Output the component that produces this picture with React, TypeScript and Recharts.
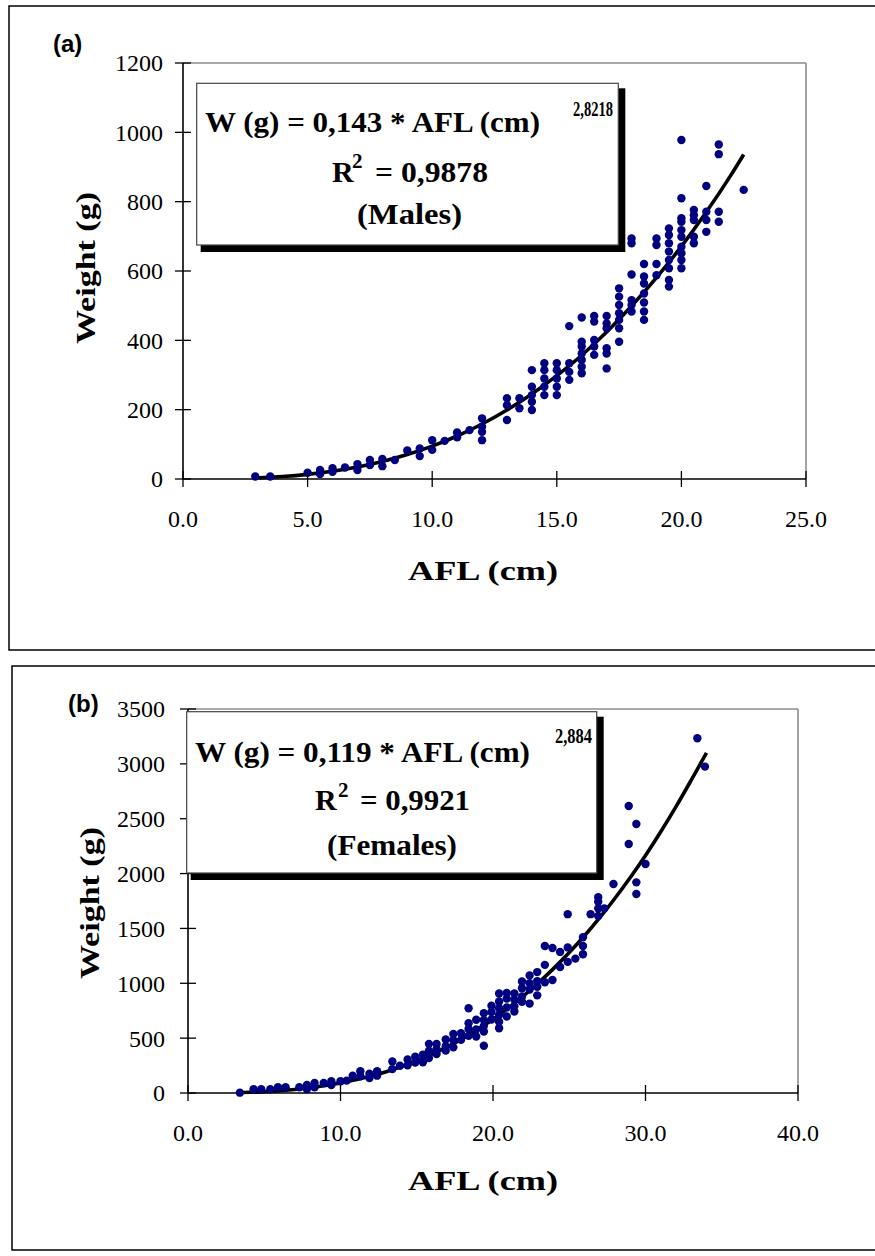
import React from 'react';
import { ComposedChart, Scatter, Line, XAxis, YAxis, ReferenceLine } from 'recharts';

const SERIF = '"Liberation Serif", "Times New Roman", serif';
const SANS = '"Liberation Sans", Arial, sans-serif';
const DOT = '#000080';

// ---------- Panel (a): males ----------
const maleAFL = [2.9, 3.5, 5.0, 5.5, 6.0, 6.5, 7.0, 7.5, 8.0, 8.5, 9.0, 9.5, 10.0, 10.5, 11.0, 11.5, 12.0, 13.0, 13.5, 14.0, 14.5, 15.0, 15.5, 16.0, 16.5, 17.0, 17.5, 18.0, 18.5, 19.0, 19.5, 20.0, 20.5, 21.0, 21.5, 22.5];
const maleWeights = [
  [7], [7], [18], [26, 14], [31, 21], [33], [43, 26], [55, 40], [58, 37], [55], [82], [88, 66],
  [112, 84], [110], [134, 120], [141], [175, 151, 136, 112], [233, 213, 170], [233, 204],
  [314, 266, 242, 223, 199], [334, 314, 290, 266, 242], [334, 314, 290, 266, 242],
  [441, 334, 309, 286], [466, 396, 382, 362, 343, 324, 305], [470, 454, 401, 382, 358],
  [470, 449, 435, 377, 362, 319], [550, 526, 502, 478, 459, 435, 396],
  [694, 680, 590, 516, 502, 483], [620, 584, 564, 535, 509, 483, 459], [694, 675, 620, 588],
  [723, 704, 680, 656, 632, 608, 574, 555], [978, 810, 752, 742, 718, 699, 670, 651, 632, 608],
  [776, 761, 747, 699, 680], [845, 771, 747, 713], [965, 937, 771, 742], [834],
];
const maleFitAFL = [2.9, 4, 5, 6, 7, 8, 9, 10, 11, 12, 13, 14, 15, 16, 17, 18, 19, 20, 21, 22, 22.5];
const maleFitW = [3, 7.1, 13.4, 22.4, 34.7, 50.5, 70.5, 94.9, 124, 158.7, 199, 245, 298, 357, 424, 499, 581, 671, 770, 878, 936];
const maleXTicks = [0, 5, 10, 15, 20, 25];
const maleYTicks = [0, 200, 400, 600, 800, 1000, 1200];

// ---------- Panel (b): females ----------
const femaleAFL = [3.4, 4.3, 4.8, 5.4, 5.9, 6.4, 7.3, 7.8, 8.3, 8.9, 9.4, 10.0, 10.4, 10.8, 11.3, 11.9, 12.4, 13.4, 13.9, 14.4, 14.9, 15.4, 15.8, 16.3, 16.9, 17.4, 17.9, 18.4, 18.9, 19.4, 19.9, 20.4, 20.9, 21.4, 21.9, 22.4, 22.9, 23.4, 23.9, 24.4, 24.9, 25.4, 25.9, 26.4, 26.9, 27.3, 27.9, 28.9, 29.4, 30.0, 33.4, 33.9];
const femaleWeights = [
  [3], [34], [34], [34], [52], [52], [52], [73, 34], [91, 52], [91], [107, 73], [107], [113], [158],
  [198, 152], [176, 137], [198, 158], [287, 218], [249], [306, 252], [330, 278], [348, 300, 280],
  [448, 385, 318], [446, 398, 355], [488, 426, 386], [538, 480, 416], [545, 484],
  [773, 636, 583, 522], [667, 580, 515], [728, 665, 610, 560, 430], [795, 738, 670],
  [907, 834, 773, 712, 650, 590], [912, 860, 780, 697], [907, 850, 790, 742],
  [1016, 955, 880, 831], [1072, 1000, 943, 815], [1102, 1020, 968, 890], [1340, 1168, 1010],
  [1322, 1030], [1286, 1149], [1630, 1327, 1195], [1225], [1419, 1340, 1265], [1630],
  [1784, 1744, 1683, 1613], [1683], [1905], [2616, 2270], [2452, 1920, 1814], [2087], [3233], [2975],
];
const femaleFitAFL = [3.6, 5, 7, 8, 10, 12, 13, 14, 15, 16, 17, 18, 19, 20, 21, 22, 23, 24, 25, 26, 27, 28, 29, 30, 31, 32, 33, 34];
const femaleFitW = [4.6, 12.3, 32.6, 47.9, 91, 154, 194, 240, 293, 354, 421, 496, 580, 672, 774, 885, 1007, 1138, 1280, 1433, 1598, 1775, 1964, 2165, 2381, 2610, 2852, 3100];
const femaleXTicks = [0, 10, 20, 30, 40];
const femaleYTicks = [0, 500, 1000, 1500, 2000, 2500, 3000, 3500];

const toPoints = (xs: number[], ws: number[][]) =>
  xs.flatMap((x, i) => ws[i].map((w) => ({ x, w })));
const toLine = (xs: number[], ws: number[]) => xs.map((x, i) => ({ x, w: ws[i] }));

const TS = 8; // half tick length

const makeYTick = (margin: number) => (props: any) => {
  const { x, y, payload } = props;
  const ax = x + TS + margin;
  return (
    <g>
      <line x1={ax - TS} x2={ax + TS} y1={y} y2={y} stroke="#000" strokeWidth={1.3} />
      <text x={x} y={y} dy="0.35em" textAnchor="end" fontFamily={SERIF} fontSize={24} fill="#000">
        {payload.value}
      </text>
    </g>
  );
};

const makeXTick = (margin: number) => (props: any) => {
  const { x, y, payload } = props;
  const ay = y - TS - margin;
  return (
    <g>
      <line x1={x} x2={x} y1={ay - TS} y2={ay + TS} stroke="#000" strokeWidth={1.3} />
      <text x={x} y={y} dy="0.35em" textAnchor="middle" fontFamily={SERIF} fontSize={24} fill="#000">
        {Number(payload.value).toFixed(1)}
      </text>
    </g>
  );
};

const Dot = (props: any) => <circle cx={props.cx} cy={props.cy} r={4.2} fill={DOT} />;

type PanelProps = {
  top: number;
  height: number;
  margin: { top: number; right: number; bottom: number; left: number };
  points: { x: number; w: number }[];
  fit: { x: number; w: number }[];
  xTicks: number[];
  yTicks: number[];
  yTickMargin: number;
};

const Panel = ({ top, height, margin, points, fit, xTicks, yTicks, yTickMargin }: PanelProps) => {
  const xMax = xTicks[xTicks.length - 1];
  const yMax = yTicks[yTicks.length - 1];
  return (
    <div style={{ position: 'absolute', left: 0, top, width: 875, height }}>
      <ComposedChart width={875} height={height} margin={margin}>
        <XAxis
          type="number"
          dataKey="x"
          domain={[0, xMax]}
          ticks={xTicks}
          height={40}
          tickSize={TS}
          tickMargin={32}
          tickLine={false}
          axisLine={{ stroke: '#000', strokeWidth: 1.6 }}
          tick={makeXTick(32)}
          interval={0}
        />
        <YAxis
          type="number"
          dataKey="w"
          domain={[0, yMax]}
          ticks={yTicks}
          width={60}
          tickSize={TS}
          tickMargin={yTickMargin}
          tickLine={false}
          axisLine={{ stroke: '#000', strokeWidth: 1.6 }}
          tick={makeYTick(yTickMargin)}
          interval={0}
        />
        <ReferenceLine y={yMax} stroke="#8c8c8c" strokeWidth={1.6} />
        <ReferenceLine x={xMax} stroke="#8c8c8c" strokeWidth={1.6} />
        <Scatter data={points} shape={Dot} isAnimationActive={false} />
        <Line
          data={fit}
          dataKey="w"
          type="monotone"
          stroke="#000"
          strokeWidth={3.6}
          dot={false}
          activeDot={false}
          isAnimationActive={false}
        />
      </ComposedChart>
    </div>
  );
};

const EqBox = ({ x, y, w, h }: { x: number; y: number; w: number; h: number }) => (
  <g>
    <rect x={x + 4} y={y + 5} width={w + 3} height={h + 2} fill="#000" />
    <rect x={x} y={y} width={w} height={h} fill="#fff" stroke="#444" strokeWidth={1.2} />
  </g>
);

const T = (p: any) => (
  <text fontFamily={SERIF} fontWeight="bold" fill="#000" lengthAdjust="spacingAndGlyphs" {...p} />
);

export default function App() {
  return (
    <div style={{ position: 'absolute', left: 0, top: 0, width: 875, height: 1256, background: '#fff' }}>
      <Panel
        top={0}
        height={650}
        margin={{ top: 63, right: 69, bottom: 131, left: 123 }}
        points={toPoints(maleAFL, maleWeights)}
        fit={toLine(maleFitAFL, maleFitW)}
        xTicks={maleXTicks}
        yTicks={maleYTicks}
        yTickMargin={12}
      />
      <Panel
        top={660}
        height={590}
        margin={{ top: 49, right: 77, bottom: 117, left: 128 }}
        points={toPoints(femaleAFL, femaleWeights)}
        fit={toLine(femaleFitAFL, femaleFitW)}
        xTicks={femaleXTicks}
        yTicks={femaleYTicks}
        yTickMargin={15}
      />
      <svg
        width={875}
        height={1256}
        style={{ position: 'absolute', left: 0, top: 0, pointerEvents: 'none' }}
      >
        {/* panel frames */}
        <rect x={9} y={6} width={900} height={644} fill="none" stroke="#000" strokeWidth={1.5} />
        <rect x={12} y={666} width={900} height={584} fill="none" stroke="#000" strokeWidth={1.5} />

        <text x={53} y={52} fontFamily={SANS} fontWeight="bold" fontSize={24} fill="#000">(a)</text>
        <text x={68} y={712} fontFamily={SANS} fontWeight="bold" fontSize={24} fill="#000">(b)</text>

        {/* axis titles */}
        <T x={0} y={0} fontSize={28} textAnchor="middle" textLength={152} transform="translate(95,268) rotate(-90)">Weight (g)</T>
        <T x={483} y={580} fontSize={28} textAnchor="middle" textLength={150}>AFL (cm)</T>
        <T x={0} y={0} fontSize={28} textAnchor="middle" textLength={152} transform="translate(99,903) rotate(-90)">Weight (g)</T>
        <T x={483} y={1190} fontSize={28} textAnchor="middle" textLength={150}>AFL (cm)</T>

        {/* equation box (a) */}
        <EqBox x={196.7} y={83.3} w={421.6} h={161.7} />
        <T x={205} y={132} fontSize={30} textLength={335}>W (g) = 0,143 * AFL (cm)</T>
        <T x={573} y={116} fontSize={21} textLength={40}>2,8218</T>
        <T x={332} y={182} fontSize={30}>R</T>
        <T x={352} y={168} fontSize={21}>2</T>
        <T x={375} y={182} fontSize={30} textLength={113}>= 0,9878</T>
        <T x={357} y={224} fontSize={30} textLength={105}>(Males)</T>

        {/* equation box (b) */}
        <EqBox x={186.7} y={711.7} w={410} h={161.3} />
        <T x={195} y={762} fontSize={30} textLength={335}>W (g) = 0,119 * AFL (cm)</T>
        <T x={555} y={743} fontSize={21} textLength={37}>2,884</T>
        <T x={315} y={810} fontSize={30}>R</T>
        <T x={338} y={797} fontSize={21}>2</T>
        <T x={360} y={810} fontSize={30} textLength={110}>= 0,9921</T>
        <T x={327} y={855} fontSize={30} textLength={130}>(Females)</T>
      </svg>
    </div>
  );
}
